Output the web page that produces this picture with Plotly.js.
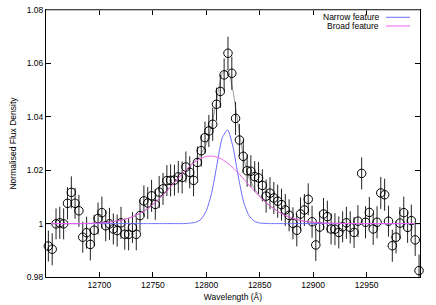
<!DOCTYPE html>
<html>
<head>
<meta charset="utf-8">
<script src="https://cdn.plot.ly/plotly-3.0.1.min.js"></script>
<style>
  html, body { margin: 0; padding: 0; background: #fff; }
  #chart { width: 436px; height: 305px; }
</style>
</head>
<body>
<div id="chart"></div>
<script>
const wavelength = [
  12652.2, 12655.8, 12659.4, 12662.9, 12666.5, 12670.1, 12673.7, 12677.2, 12680.8, 12684.4,
  12688.0, 12691.5, 12695.1, 12698.7, 12702.3, 12705.9, 12709.4, 12713.0, 12716.6, 12720.2,
  12723.7, 12727.3, 12730.9, 12734.5, 12738.0, 12741.6, 12745.2, 12748.8, 12752.3, 12755.9,
  12759.5, 12763.1, 12766.6, 12770.2, 12773.8, 12777.4, 12780.9, 12784.5, 12788.1, 12791.7,
  12795.3, 12798.8, 12802.4, 12806.0, 12809.6, 12813.1, 12816.7, 12820.3, 12823.9, 12827.4,
  12831.0, 12834.6, 12838.2, 12841.7, 12845.3, 12848.9, 12852.5, 12856.0, 12859.6, 12863.2,
  12866.8, 12870.4, 12873.9, 12877.5, 12881.1, 12884.7, 12888.2, 12891.8, 12895.4, 12899.0,
  12902.5, 12906.1, 12909.7, 12913.3, 12916.8, 12920.4, 12924.0, 12927.6, 12931.1, 12934.7,
  12938.3, 12941.9, 12945.4, 12949.0, 12952.6, 12956.2, 12959.8, 12963.3, 12966.9, 12970.5,
  12974.1, 12977.6, 12981.2, 12984.8, 12988.4, 12991.9, 12995.5, 12999.1
];
const flux = [
  0.9916, 0.9904, 0.9999, 1.0003, 0.9999, 1.0076, 1.0117, 1.0076, 1.0048, 0.9949,
  0.9966, 0.9922, 0.9975, 1.0019, 1.0041, 0.9992, 0.9999, 0.9980, 0.9974, 1.0003,
  0.9960, 0.9960, 0.9985, 0.9960, 1.0030, 1.0085, 1.0077, 1.0104, 1.0072, 1.0118,
  1.0130, 1.0161, 1.0162, 1.0163, 1.0175, 1.0173, 1.0212, 1.0192, 1.0162, 1.0229,
  1.0273, 1.0322, 1.0347, 1.0372, 1.0447, 1.0495, 1.0557, 1.0638, 1.0563, 1.0394,
  1.0313, 1.0252, 1.0198, 1.0196, 1.0176, 1.0171, 1.0143, 1.0103, 1.0114, 1.0096,
  1.0084, 1.0071, 1.0051, 1.0031, 1.0001, 0.9975, 1.0036, 1.0051, 1.0091, 1.0007,
  0.9920, 0.9987, 1.0036, 1.0026, 0.9980, 0.9979, 0.9967, 0.9988, 1.0003, 0.9986,
  0.9967, 1.0009, 1.0188, 1.0005, 1.0042, 0.9980, 1.0005, 1.0115, 1.0108, 1.0009,
  0.9917, 0.9949, 1.0002, 1.0041, 0.9986, 1.0011, 0.9939, 0.9824
];
const fluxErr = [
  0.0058, 0.0060, 0.0058, 0.0060, 0.0058, 0.0060, 0.0060, 0.0058, 0.0060, 0.0058,
  0.0060, 0.0060, 0.0058, 0.0060, 0.0060, 0.0058, 0.0060, 0.0058, 0.0060, 0.0060,
  0.0058, 0.0060, 0.0058, 0.0060, 0.0060, 0.0058, 0.0060, 0.0060, 0.0058, 0.0060,
  0.0060, 0.0058, 0.0060, 0.0058, 0.0060, 0.0060, 0.0058, 0.0060, 0.0060, 0.0060,
  0.0060, 0.0060, 0.0060, 0.0062, 0.0062, 0.0062, 0.0062, 0.0062, 0.0062, 0.0062,
  0.0060, 0.0060, 0.0060, 0.0060, 0.0058, 0.0060, 0.0060, 0.0062, 0.0060, 0.0060,
  0.0062, 0.0060, 0.0060, 0.0060, 0.0060, 0.0060, 0.0062, 0.0060, 0.0060, 0.0060,
  0.0060, 0.0058, 0.0060, 0.0060, 0.0058, 0.0060, 0.0060, 0.0058, 0.0060, 0.0060,
  0.0058, 0.0060, 0.0060, 0.0060, 0.0058, 0.0060, 0.0060, 0.0060, 0.0060, 0.0058,
  0.0060, 0.0060, 0.0060, 0.0060, 0.0058, 0.0060, 0.0060, 0.0060
];

// Fitted model components
const modelWave = [
  12650, 12680, 12700, 12710, 12720, 12730,
  12740, 12745, 12750, 12755, 12760, 12765, 12770, 12775, 12780, 12785,
  12790, 12795, 12800, 12805, 12810, 12815, 12820, 12825, 12830, 12835,
  12840, 12845, 12850, 12855, 12860, 12865, 12870, 12875, 12880,
  12890, 12900, 12910, 12920, 12940, 12970, 13000
];
const narrowFlux = [
  1.0000, 1.0000, 1.0000, 1.0000, 1.0000, 1.0000,
  1.0000, 1.0000, 1.0000, 1.0000, 1.0000, 1.0000, 1.0000, 1.0000, 1.0000, 1.0002,
  1.0005, 1.0016, 1.0048, 1.0114, 1.0221, 1.0322, 1.0351, 1.0287, 1.0175, 1.0080,
  1.0030, 1.0009, 1.0002, 1.0001, 1.0000, 1.0000, 1.0000, 1.0000, 1.0000,
  1.0000, 1.0000, 1.0000, 1.0000, 1.0000, 1.0000, 1.0000
];
const broadFlux = [
  1.0000, 1.0000, 1.0002, 1.0006, 1.0012, 1.0024,
  1.0043, 1.0056, 1.0072, 1.0090, 1.0110, 1.0131, 1.0153, 1.0176, 1.0197, 1.0216,
  1.0232, 1.0244, 1.0251, 1.0253, 1.0249, 1.0240, 1.0226, 1.0209, 1.0189, 1.0167,
  1.0144, 1.0122, 1.0101, 1.0082, 1.0065, 1.0051, 1.0038, 1.0029, 1.0021,
  1.0010, 1.0005, 1.0002, 1.0001, 1.0000, 1.0000, 1.0000
];
const totalFlux = [
  1.0000, 1.0000, 1.0002, 1.0006, 1.0012, 1.0024,
  1.0043, 1.0056, 1.0072, 1.0090, 1.0110, 1.0131, 1.0153, 1.0176, 1.0197, 1.0218,
  1.0237, 1.0260, 1.0299, 1.0367, 1.0470, 1.0562, 1.0577, 1.0496, 1.0364, 1.0247,
  1.0174, 1.0131, 1.0103, 1.0083, 1.0065, 1.0051, 1.0038, 1.0029, 1.0021,
  1.0010, 1.0005, 1.0002, 1.0001, 1.0000, 1.0000, 1.0000
];

const xTicks = [12700, 12750, 12800, 12850, 12900, 12950];
const xTickText = ['12700', '12750', '12800', '12850', '12900', '12950'];
const yTicks = [0.98, 1.0, 1.02, 1.04, 1.06, 1.08];
const yTickText = ['0.98', '1', '1.02', '1.04', '1.06', '1.08'];

const legendNames = ['Narrow feature', 'Broad feature'];
const narrowColor = '#6a6aff';
const broadColor = '#f060f0';

const font = { family: 'Liberation Sans, Arial, sans-serif', size: 8.5, color: '#000' };

const total = {
  x: modelWave, y: totalFlux, type: 'scatter', mode: 'lines',
  line: { color: '#9a9a9a', width: 1, shape: 'spline', smoothing: 0.6 },
  hoverinfo: 'skip'
};

const data = {
  x: wavelength, y: flux, type: 'scatter', mode: 'markers',
  marker: { symbol: 'circle-open', size: 8.5, color: '#000', line: { width: 1, color: '#000' } },
  error_y: { type: 'data', array: fluxErr, visible: true, thickness: 1, width: 0, color: '#222' },
  cliponaxis: false
};

const narrow = {
  x: modelWave, y: narrowFlux, type: 'scatter', mode: 'lines', name: legendNames[0],
  line: { color: narrowColor, width: 1, shape: 'spline', smoothing: 0.6 }
};

const broad = {
  x: modelWave, y: broadFlux, type: 'scatter', mode: 'lines', name: legendNames[1],
  line: { color: broadColor, width: 1, shape: 'spline', smoothing: 0.6 }
};

// gnuplot style key: text right-aligned, sample line on the right
const keyX = 0.8957, keyX0 = 0.9091, keyX1 = 0.9733;
const keyY = [0.9727, 0.9401];

const layout = {
  width: 436,
  height: 305,
  margin: { l: 46, r: 16, t: 10, b: 28 },
  paper_bgcolor: '#fff',
  plot_bgcolor: '#fff',
  font: font,
  showlegend: false,
  xaxis: {
    range: [12650, 13000],
    tickvals: xTicks, ticktext: xTickText,
    ticks: 'inside', ticklen: 5, tickcolor: '#000',
    showline: true, linecolor: '#000', linewidth: 1, mirror: 'ticks',
    showgrid: false, zeroline: false,
    title: { text: 'Wavelength (Å)', font: font, standoff: 4 },
    tickfont: font
  },
  yaxis: {
    range: [0.98, 1.08],
    tickvals: yTicks, ticktext: yTickText,
    ticks: 'inside', ticklen: 5, tickcolor: '#000',
    showline: true, linecolor: '#000', linewidth: 1, mirror: 'ticks',
    showgrid: false, zeroline: false,
    title: { text: 'Normalised Flux Density', font: font, standoff: 8 },
    tickfont: font
  },
  annotations: legendNames.map((name, i) => ({
    xref: 'paper', yref: 'paper', x: keyX, y: keyY[i],
    xanchor: 'right', yanchor: 'middle', showarrow: false,
    text: name, font: font
  })),
  shapes: [narrowColor, broadColor].map((c, i) => ({
    type: 'line', xref: 'paper', yref: 'paper',
    x0: keyX0, x1: keyX1, y0: keyY[i], y1: keyY[i],
    line: { color: c, width: 1 }
  })).concat([{
    // the top border is drawn lighter in the reference
    type: 'line', xref: 'paper', yref: 'paper',
    x0: 0, x1: 1, y0: 1, y1: 1,
    line: { color: '#8a8a8a', width: 1 }
  }])
};

Plotly.newPlot('chart', [total, data, narrow, broad], layout, { staticPlot: true, displayModeBar: false });
</script>
</body>
</html>
